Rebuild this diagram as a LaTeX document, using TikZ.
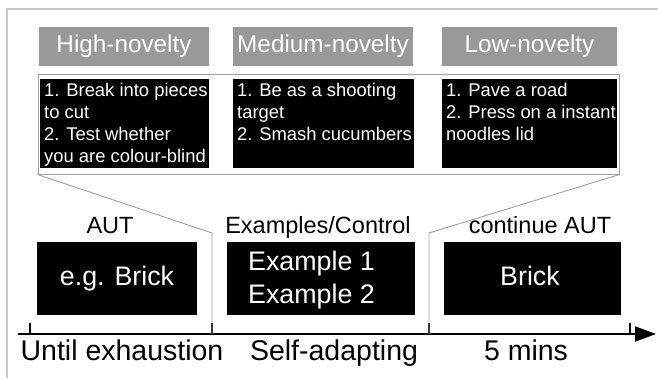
\documentclass[tikz,border=0pt]{standalone}
\usepackage{fontspec}
\setmainfont{Liberation Sans}
\usetikzlibrary{arrows.meta}
\definecolor{hdrgray}{HTML}{999999}
\definecolor{framegray}{HTML}{C8C8C8}
\definecolor{linegray}{HTML}{A0A0A0}
\tikzset{
  hdr/.style={fill=hdrgray, draw=none, text=white, inner sep=0pt, minimum height=39pt,
    font=\fontsize{24.3}{28}\selectfont},
  blk/.style={fill=black, draw=none, inner sep=0pt},
  wtxt/.style={text=white, inner sep=0pt, anchor=north west, align=left,
    font=\fontsize{18.4}{22}\selectfont},
  lbl/.style={inner sep=0pt, anchor=base, font=\fontsize{23.5}{26}\selectfont},
  big/.style={text=white, inner sep=0pt, font=\fontsize{26.8}{33}\selectfont},
  btm/.style={inner sep=0pt, anchor=base, font=\fontsize{28.5}{30}\selectfont},
  funnel/.style={draw=linegray, line width=0.9pt},
  tick/.style={draw=black, line width=1.5pt}
}
\begin{document}
\begin{tikzpicture}[x=1pt,y=-1pt]
\useasboundingbox (0,0) rectangle (658,378);
% outer frame
\draw[framegray, line width=1.5pt] (7,378) -- (7,9) -- (658,9);
% headers
\node[hdr, minimum width=170pt] (hh) at (124,46.5) {High-novelty};
\node[hdr, minimum width=180pt] (hm) at (323,46.5) {Medium-novelty};
\node[hdr, minimum width=175pt] (hl) at (529.5,46.5) {Low-novelty};
% white box
\node[draw=linegray, line width=1pt, fill=white, minimum width=581pt, minimum height=100pt, inner sep=0pt] (wb) at (328.5,124) {};
% black boxes
\node[blk, minimum width=169pt, minimum height=89pt] (bh) at (124.5,123.5) {};
\node[blk, minimum width=181pt, minimum height=89pt] (bm) at (323.5,123.5) {};
\node[blk, minimum width=175pt, minimum height=89pt] (bl) at (529.5,123.5) {};
\node[wtxt] (th) at (44,82) {\rule{0pt}{14pt}1. Break into pieces\\to cut\\2. Test whether\\you are colour-blind};
\node[wtxt] (tm) at (237,82) {\rule{0pt}{14pt}1. Be as a shooting\\target\\2. Smash cucumbers};
\node[wtxt] (tl) at (446,82) {\rule{0pt}{14pt}1. Pave a road\\2. Press on a instant\\noodles lid};
% labels above lower boxes
\node[lbl] (aut) at (110,233) {AUT};
\node[lbl] (ec) at (318,233) {Examples/Control};
\node[lbl] (caut) at (540,233) {continue AUT};
% lower boxes
\node[blk, minimum width=160pt, minimum height=73pt] (b1) at (117,278.5) {};
\node[blk, minimum width=188pt, minimum height=73pt] (b2) at (321,278.5) {};
\node[blk, minimum width=177pt, minimum height=73pt] (b3) at (532.5,278.5) {};
\node[big, anchor=base] (t1) at (117,285) {e.g. Brick};
\node[big, anchor=base west] (t2a) at (248,270) {Example 1};
\node[big, anchor=base west] (t2b) at (248,303) {Example 2};
\node[big, anchor=base] (t3) at (530,285) {Brick};
% axis
\coordinate (a0) at (18,334);
\coordinate (a1) at (656,334);
\draw[line width=1.8pt, -{Triangle[length=21pt,width=15pt]}] (a0) -- (a1);
\coordinate (k1) at (30,334);
\coordinate (k2) at (212,334);
\coordinate (k3) at (429,334);
\coordinate (k4) at (630,334);
\foreach \k in {k1,k2,k3,k4} \draw[tick] (\k) -- ++(0,-11);
% funnel lines
\coordinate (fl) at (212,233);
\coordinate (fr) at (429,233);
\draw[funnel] (wb.south west) -- (fl) -- (k2);
\draw[funnel] (wb.south east) -- (fr) -- (k3);
% bottom labels
\node[btm] (l1) at (122,360) {Until exhaustion};
\node[btm] (l2) at (334,360) {Self-adapting};
\node[btm] (l3) at (526,360) {5 mins};
\end{tikzpicture}
\end{document}
